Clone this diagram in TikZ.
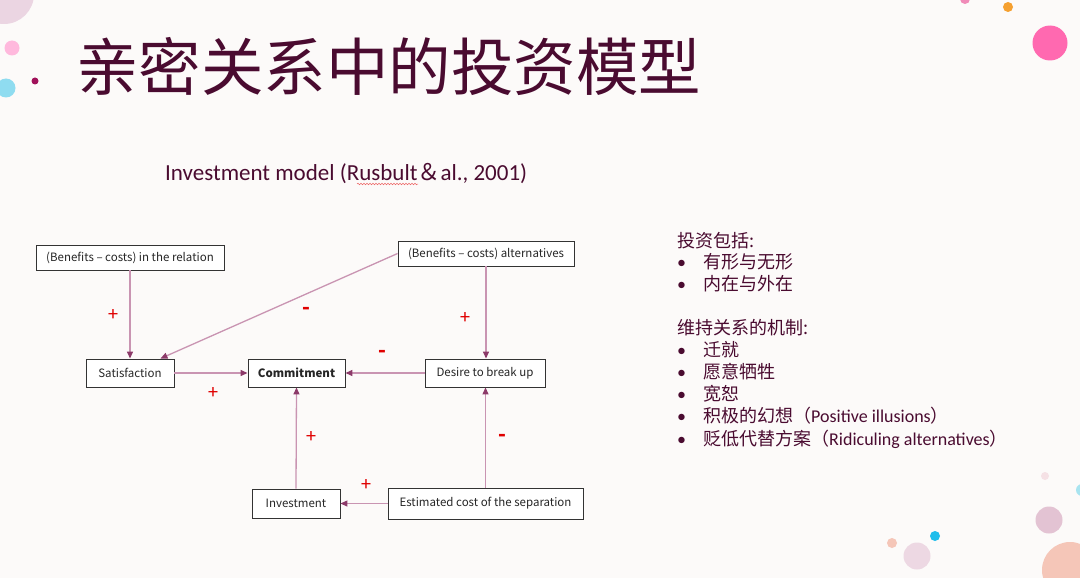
\documentclass[tikz,border=0pt]{standalone}
\usepackage{fontspec}
\setmainfont{Carlito}
\newfontfamily\cjkfont{Noto Sans CJK SC}
\usetikzlibrary{arrows.meta,decorations.pathmorphing}

\definecolor{paperbg}{HTML}{FCFAF9}
\definecolor{plumtext}{HTML}{4A0B30}
\definecolor{linkpink}{HTML}{C994B2}
\definecolor{tipplum}{HTML}{8C3A69}
\definecolor{signred}{HTML}{E00000}
\definecolor{dotmauvepale}{HTML}{EBD5E2}
\definecolor{dotpink}{HTML}{FFB9DD}
\definecolor{dotsky}{HTML}{8FDCF0}
\definecolor{dotplum}{HTML}{A0115A}
\definecolor{dotrose}{HTML}{F08BB8}
\definecolor{dotorange}{HTML}{F5A030}
\definecolor{dothot}{HTML}{FF69B0}
\definecolor{dotblush}{HTML}{F5E1E5}
\definecolor{dotcyan}{HTML}{A8E4F0}
\definecolor{dotmauve}{HTML}{E3C3D3}
\definecolor{dotpeach}{HTML}{F5C6B8}
\definecolor{dotblue}{HTML}{20BDEB}
\definecolor{dotlilac}{HTML}{EDD8E3}

\tikzset{
  box/.style={draw=black!80,fill=white,line width=0.9pt,inner sep=0pt,
    font=\cjkfont\fontsize{11.5}{13}\selectfont,text=black!85},
  link/.style={draw=linkpink,line width=1.3pt,
    -{Triangle[length=7pt,width=6pt,color=tipplum]}},
  sign/.style={text=signred,font=\fontsize{20}{20}\selectfont},
  minus/.style={text=signred,font=\bfseries\fontsize{24}{24}\selectfont},
  note/.style={text=plumtext,anchor=base west,inner sep=0pt,
    font=\fontsize{18}{22}\selectfont},
}

\begin{document}
\begin{tikzpicture}[x=1pt,y=-1pt]
  \fill[paperbg] (0,0) rectangle (1080,578);
  \useasboundingbox (0,0) rectangle (1080,578);

  % decoration dots
  \fill[dotmauvepale] (4,-6) circle (30);
  \fill[dotpink] (12,48) circle (7.5);
  \fill[dotsky] (6,88) circle (9.5);
  \fill[dotplum] (35,81) circle (3.5);
  \fill[dotrose] (965,-1) circle (5);
  \fill[dotorange] (1008,7) circle (5);
  \fill[dothot] (1050,43) circle (17.5);
  \fill[dotblush] (1045,476) circle (4);
  \fill[dotcyan] (1082,490) circle (6);
  \fill[dotmauve] (1049,520) circle (13.5);
  \fill[dotpeach] (1070,570) circle (28);
  \fill[dotblue] (935,536) circle (5);
  \fill[dotpeach] (892,543) circle (5);
  \fill[dotlilac] (917,556) circle (13.5);

  % title and subtitle
  \node[note,font=\cjkfont\fontsize{62.5}{62.5}\selectfont] (title) at (76,91)
    {亲密关系中的投资模型};
  \node[note,font=\fontsize{23}{26}\selectfont] (subtitle) at (165,180)
    {Investment model (Rusbult{\cjkfont ＆}al., 2001)};
  \draw[signred!60,line width=0.5pt,decorate,
    decoration={snake,amplitude=0.8pt,segment length=3pt}] (357,184) -- (418,184);

  % model boxes
  \node[box,minimum width=188,minimum height=25] (rel) at (130,257.5)
    {(Benefits – costs) in the relation};
  \node[box,minimum width=176,minimum height=25] (alt) at (486,253.5)
    {(Benefits – costs) alternatives};
  \node[box,minimum width=88,minimum height=28] (sat) at (130,373) {Satisfaction};
  \node[box,minimum width=97,minimum height=28,font=\cjkfont\bfseries\fontsize{11.5}{13}\selectfont]
    (com) at (296.5,373) {Commitment};
  \node[box,minimum width=120,minimum height=28] (des) at (485,373) {Desire to break up};
  \node[box,minimum width=88,minimum height=29] (inv) at (296,503.5) {Investment};
  \node[box,minimum width=195,minimum height=31] (est) at (485.5,503.5)
    {Estimated cost of the separation};

  % links
  \draw[link] (rel.south) -- (sat.north);
  \draw[link] (alt.west) -- ([xshift=-14pt]sat.north east);
  \draw[link] (alt.south) -- (alt.south |- des.north);
  \draw[link] (sat.east) -- (com.west);
  \draw[link] (des.west) -- (com.east);
  \draw[link] (inv.north) -- (com.south);
  \draw[link] (est.north) -- (est.north |- des.south);
  \draw[link] (est.west) -- (inv.east);

  % signs
  \node[sign] (s1) at (113,315) {+};
  \node[minus] (s2) at (306,311) {-};
  \node[sign] (s3) at (465,318) {+};
  \node[minus] (s4) at (382,354) {-};
  \node[sign] (s5) at (213,393) {+};
  \node[sign] (s6) at (311,437) {+};
  \node[minus] (s7) at (502,438) {-};
  \node[sign] (s8) at (366,485) {+};

  % notes on the right
  \node[note] (n1) at (677,247) {\cjkfont 投资包括:};
  \node[note] (b1) at (677,268) {•};
  \node[note] (n2) at (703,268) {\cjkfont 有形与无形};
  \node[note] (b2) at (677,290) {•};
  \node[note] (n3) at (703,290) {\cjkfont 内在与外在};
  \node[note] (n4) at (677,334) {\cjkfont 维持关系的机制:};
  \node[note] (b4) at (677,356) {•};
  \node[note] (n5) at (703,356) {\cjkfont 迁就};
  \node[note] (b5) at (677,378) {•};
  \node[note] (n6) at (703,378) {\cjkfont 愿意牺牲};
  \node[note] (b6) at (677,400) {•};
  \node[note] (n7) at (703,400) {\cjkfont 宽恕};
  \node[note] (b7) at (677,422) {•};
  \node[note] (n8) at (703,422) {{\cjkfont 积极的幻想（}Positive illusions{\cjkfont ）}};
  \node[note] (b8) at (677,445) {•};
  \node[note] (n9) at (703,445) {{\cjkfont 贬低代替方案（}Ridiculing alternatives{\cjkfont ）}};
\end{tikzpicture}
\end{document}
